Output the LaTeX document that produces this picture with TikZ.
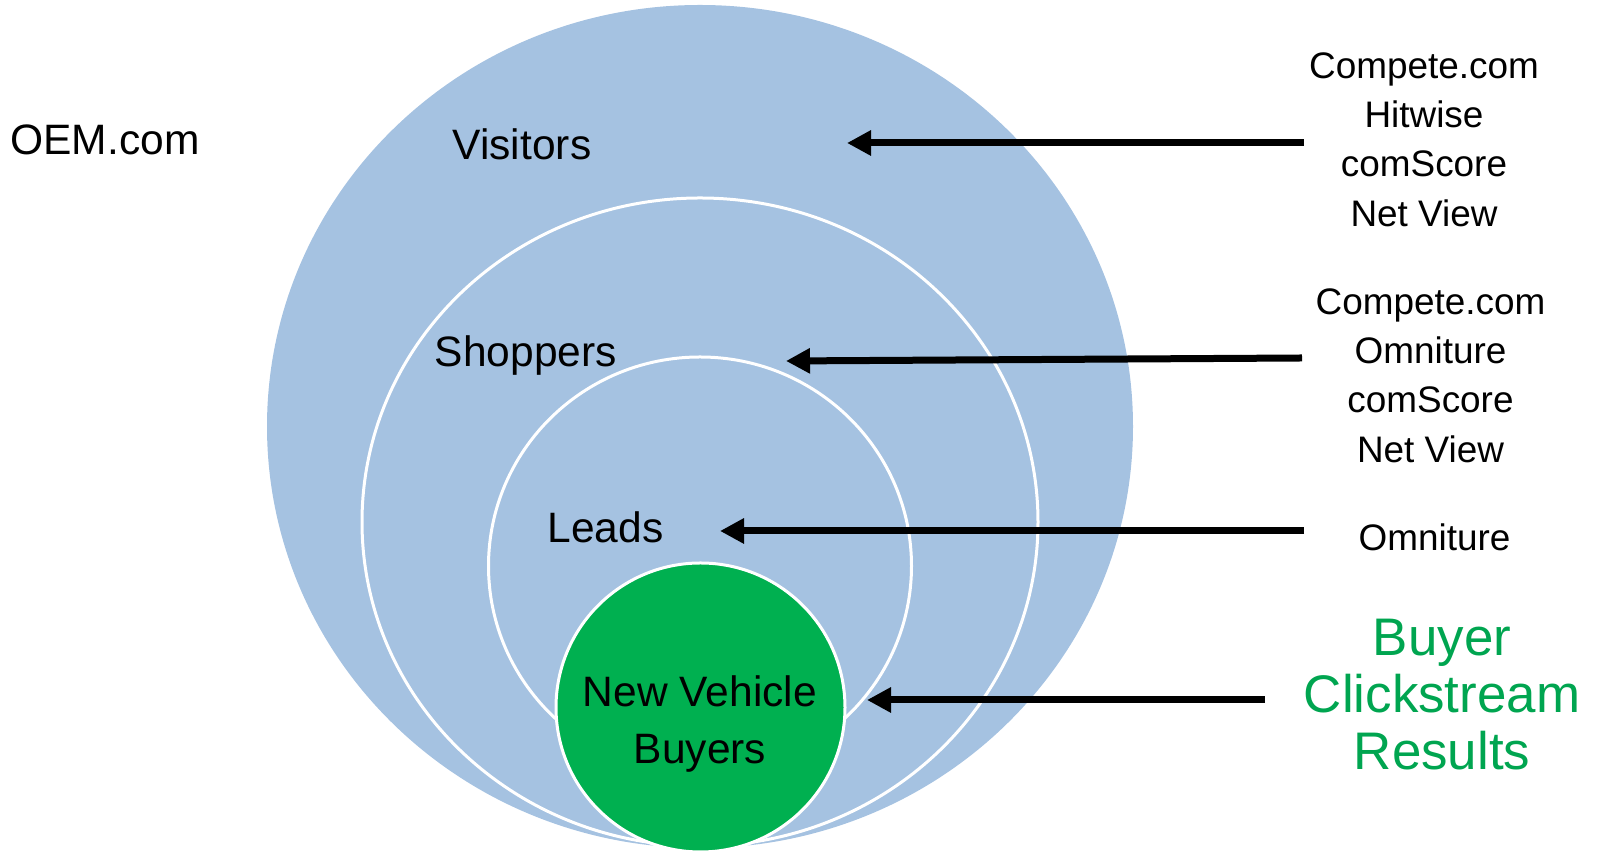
\documentclass[tikz,border=0pt]{standalone}
\usepackage{fontspec}
\setmainfont{Liberation Sans}
\usepackage{tikz}
\usetikzlibrary{arrows.meta}
\usepackage{xcolor}

\definecolor{ringblue}{RGB}{165,194,225}
\definecolor{buyergreen}{RGB}{0,176,80}
\definecolor{textgreen}{RGB}{0,165,80}

\tikzset{
  ring/.style={fill=ringblue, draw=white, line width=0.06cm},
  lbl/.style={inner sep=0pt, anchor=base, font=\fontsize{24.2pt}{32.4pt}\selectfont},
  src/.style={inner sep=0pt, align=center, font=\fontsize{21pt}{28.1pt}\selectfont},
  feed/.style={line width=0.14cm, -{Triangle[length=0.48cm, width=0.48cm]}}
}

\begin{document}
\begin{tikzpicture}
    \useasboundingbox (0,0) rectangle (32,17.04);

    % Draw nested rings
    \fill[ringblue] (14,8.51) ellipse [x radius=8.66cm, y radius=8.43cm];
    \draw[ring] (14,6.6) ellipse [x radius=6.76cm, y radius=6.48cm];
    \draw[ring] (14,5.72) ellipse [x radius=4.23cm, y radius=4.18cm];
    \draw[ring, fill=buyergreen] (14.01,2.89) circle [radius=2.89cm];

    % Ring labels
    \node[lbl] (oem) at (2.1,13.94) {OEM.com};
    \node[lbl] (visitors) at (10.44,13.84) {Visitors};
    \node[lbl] (shoppers) at (10.52,9.70) {Shoppers};
    \node[lbl] (leads) at (12.11,6.18) {Leads};
    \node[lbl, anchor=center, align=center] (buyers) at (14,2.56) {New Vehicle\\Buyers};

    % Data sources
    \node[src] (src1) at (28.48,14.25) {Compete.com\\Hitwise\\comScore\\Net View};
    \node[src] (src2) at (28.61,9.53) {Compete.com\\Omniture\\comScore\\Net View};
    \node[src] (src3) at (28.69,6.30) {Omniture};
    \node[src, text=textgreen, font=\fontsize{30.1pt}{32.4pt}\selectfont] (src4) at (28.84,3.14) {Buyer\\Clickstream\\Results};

    % Arrow ends
    \coordinate (t1) at (26.08,14.18);
    \coordinate (h1) at (16.94,14.18);
    \coordinate (t2) at (26.04,9.88);
    \coordinate (h2) at (15.72,9.82);
    \coordinate (t3) at (26.08,6.42);
    \coordinate (h3) at (14.40,6.42);
    \coordinate (t4) at (25.30,3.04);
    \coordinate (h4) at (17.34,3.04);

    % Draw arrows
    \draw[feed] (t1) -- (h1);
    \draw[feed] (t2) -- (h2);
    \draw[feed] (t3) -- (h3);
    \draw[feed] (t4) -- (h4);
\end{tikzpicture}
\end{document}
